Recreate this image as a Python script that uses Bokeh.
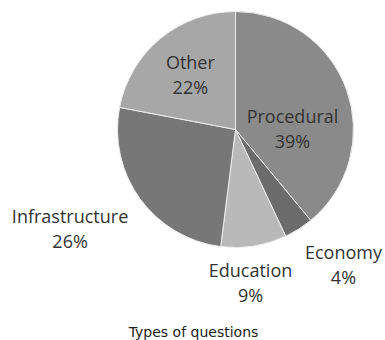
import math
from bokeh.plotting import figure
from bokeh.models import Range1d, ColumnDataSource
from bokeh.core.properties import value
from bokeh.embed import file_html
from bokeh.resources import INLINE

# data
categories = ["Procedural", "Economy", "Education", "Infrastructure", "Other"]
shares = [39, 4, 9, 26, 22]
colors = ["#8a8a8a", "#6c6c6c", "#b9b9b9", "#777777", "#a7a7a7"]
title_text = "Types of questions"

# layout
W, H = 385, 340
cx, cy, R = 235, 211, 118
label_dist = [57, 173, 154, 193, 71]          # distance of label centre from pie centre
label_shift = [18.3, -6.2, 3.4, 5.0, 0.1]       # degrees added to slice mid-angle
FONT = "Open Sans"
FS = "18px"

total = sum(shares)
starts, ends, mids = [], [], []
acc = 0.0
for s in shares:
    a0 = acc / total * 2 * math.pi
    acc += s
    a1 = acc / total * 2 * math.pi
    starts.append(math.pi / 2 - a1)
    ends.append(math.pi / 2 - a0)
    mids.append((a0 + a1) / 2)

src = ColumnDataSource(dict(x=[cx] * len(shares), y=[cy] * len(shares),
                            start=starts, end=ends, color=colors))

p = figure(width=W, height=H, output_backend="svg", toolbar_location=None,
           x_range=Range1d(0, W), y_range=Range1d(0, H), min_border=0)
p.axis.visible = False
p.grid.visible = False
p.outline_line_color = None
p.background_fill_color = "white"
p.border_fill_color = "white"

p.wedge(x="x", y="y", radius=R, start_angle="start", end_angle="end",
        fill_color="color", line_color="#eeeeee", line_width=1, source=src)

name_x, name_y, pct_x, pct_y, names, pcts = [], [], [], [], [], []
for i, (c, s) in enumerate(zip(categories, shares)):
    ang = mids[i] + math.radians(label_shift[i])
    lx = cx + label_dist[i] * math.sin(ang)
    ly = cy + label_dist[i] * math.cos(ang)
    name_x.append(lx); name_y.append(ly + 12.5); names.append(c)
    pct_x.append(lx); pct_y.append(ly - 12.5); pcts.append(f"{s}%")

p.text(x=name_x, y=name_y, text=names, text_align="center", text_baseline="middle",
       text_font=value(FONT), text_font_size=FS, text_color="#333333")
p.text(x=pct_x, y=pct_y, text=pcts, text_align="center", text_baseline="middle",
       text_font=value(FONT), text_font_size=FS, text_color="#333333")

p.text(x=[193], y=[H - 331], text=[title_text], text_align="center",
       text_baseline="alphabetic", text_font=value("DejaVu Sans"), text_font_size="14px",
       text_color="#222222")

open("out.html", "w").write(file_html(p, INLINE))
